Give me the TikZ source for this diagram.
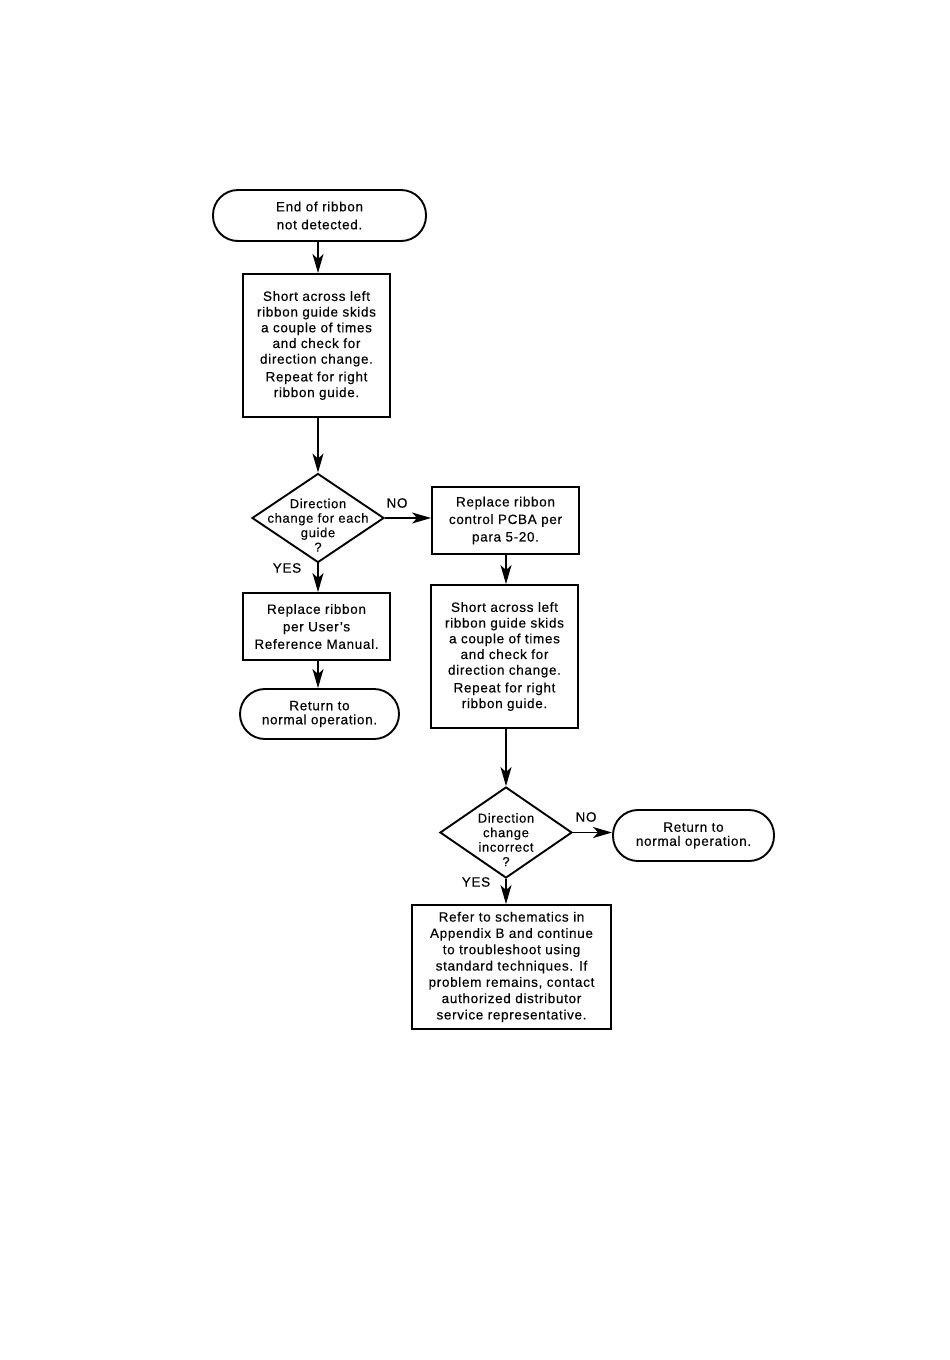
\documentclass[tikz,border=0pt]{standalone}
\usepackage{fontspec}
\setmainfont{Liberation Sans}[LetterSpace=5.0,FakeBold=0.3]
\usetikzlibrary{arrows.meta,shapes.geometric}
\tikzset{
  every node/.style={font=\fontsize{13.5pt}{16pt}\selectfont},
  proc/.style={draw,line width=1.9pt,align=center,inner sep=0pt},
  term/.style={draw,line width=1.9pt,align=center,inner sep=0pt,rounded corners=25pt},
  dec/.style={draw,diamond,line width=1.9pt,inner sep=0pt},
  arr/.style={line width=1.3pt,-{Stealth[length=19pt,width=11pt,inset=5pt]}},
  lbl/.style={font=\fontsize{13.5pt}{16pt}\selectfont,inner sep=0pt}
}
\newcommand{\dtext}[1]{\smash{\makebox[0pt]{\raisebox{-12pt}{\fontsize{13pt}{14.5pt}\selectfont\begin{tabular}{@{}c@{}}#1\end{tabular}}}}}
\begin{document}
\begin{tikzpicture}[x=1pt,y=-1pt]
\useasboundingbox (0,0) rectangle (950,1360);
\fill[white] (0,0) rectangle (950,1360);

\node[term,minimum width=213,minimum height=51,font=\fontsize{13.5pt}{18pt}\selectfont] (start) at (319.5,215.5) {End of ribbon\\not detected.};
\node[proc,minimum width=147,minimum height=143,font=\fontsize{13.5pt}{15.7pt}\selectfont] (b1) at (316.5,345.5)
  {Short across left\\ribbon guide skids\\a couple of times\\and check for\\direction change.\\[2pt]Repeat for right\\ribbon guide.};
\node[dec,minimum width=132,minimum height=89] (d1) at (318,518)
  {\dtext{Direction\\change for each\\guide\\?}};
\node[proc,minimum width=147,minimum height=67,font=\fontsize{13.5pt}{17.5pt}\selectfont] (b2) at (505.5,520.5)
  {Replace ribbon\\control PCBA per\\para 5-20.};
\node[proc,minimum width=147,minimum height=67,font=\fontsize{13.5pt}{17.5pt}\selectfont] (b3) at (316.5,626.5)
  {Replace ribbon\\per User's\\Reference Manual.};
\node[term,minimum width=159,minimum height=50,font=\fontsize{13.5pt}{14pt}\selectfont] (t2) at (319.5,714)
  {Return to\\normal operation.};
\node[proc,minimum width=147,minimum height=143,font=\fontsize{13.5pt}{15.7pt}\selectfont] (b4) at (504.5,656.5)
  {Short across left\\ribbon guide skids\\a couple of times\\and check for\\direction change.\\[2pt]Repeat for right\\ribbon guide.};
\node[dec,minimum width=132,minimum height=91] (d2) at (506,832.5)
  {\dtext{Direction\\change\\incorrect\\?}};
\node[term,minimum width=161,minimum height=51,font=\fontsize{13.5pt}{14pt}\selectfont] (t3) at (693.5,835.5)
  {Return to\\normal operation.};
\node[proc,minimum width=199,minimum height=124,font=\fontsize{13.5pt}{16.3pt}\selectfont] (b5) at (511.5,967)
  {Refer to schematics in\\Appendix B and continue\\to troubleshoot using\\standard techniques. If\\problem remains, contact\\authorized distributor\\service representative.};

\node[lbl] (no1) at (397,503) {NO};
\node[lbl] (yes1) at (287,568) {YES};
\node[lbl] (no2) at (586,817) {NO};
\node[lbl] (yes2) at (476,882) {YES};

\draw[arr] (start.south -| d1.north) -- (d1.north |- b1.north);
\draw[arr] (b1.south -| d1.north) -- (d1.north);
\draw[arr] (d1.east) -- (d1.east -| b2.west);
\draw[arr] (d1.south) -- (d1.south |- b3.north);
\draw[arr] (b3.south -| d1.south) -- (d1.south |- t2.north);
\draw[arr] (b2.south -| d2.north) -- (d2.north |- b4.north);
\draw[arr] (b4.south -| d2.north) -- (d2.north);
\draw[arr] (d2.east) -- (d2.east -| t3.west);
\draw[arr] (d2.south) -- (d2.south |- b5.north);
\end{tikzpicture}
\end{document}
